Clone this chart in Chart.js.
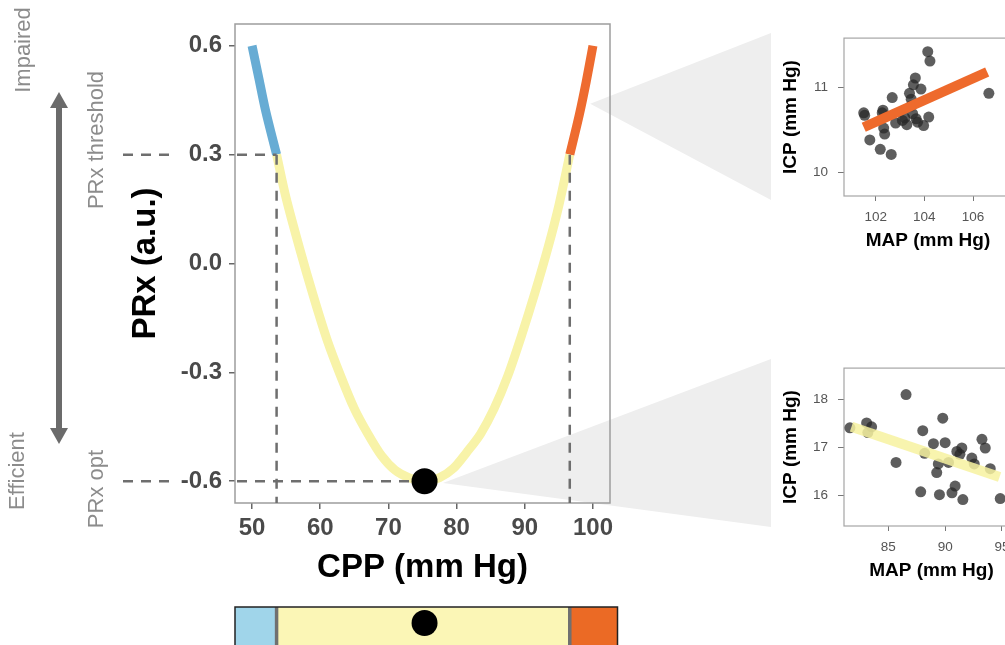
<!DOCTYPE html>
<html>
<head>
<meta charset="utf-8">
<script src="https://cdn.jsdelivr.net/npm/chart.js@4.4.0/dist/chart.umd.min.js"></script>
<style>
  html, body { margin: 0; padding: 0; background: #fff; overflow: hidden; }
  #wrap { position: relative; width: 1005px; height: 645px; overflow: hidden; }
  canvas { position: absolute; }
</style>
</head>
<body>
<div id="wrap">
  <canvas id="main" width="1005" height="645" style="left:0;top:0"></canvas>
  <canvas id="upper" width="260" height="240" style="left:770px;top:20px"></canvas>
  <canvas id="lower" width="260" height="240" style="left:770px;top:350px"></canvas>
</div>
<script>
// main curve, split in three coloured pieces
const cppLow = [50, 51, 52, 53.6];
const prxLow = [0.60, 0.51, 0.42, 0.30];
const cppMid = [53.6, 55, 57, 59, 61, 63, 65, 67, 69, 71, 73, 75.3, 77.5, 79.5, 81.5, 83.5, 85.5, 87.5, 89.5, 91.5, 93.5, 95, 96.6];
const prxMid = [0.30, 0.18, 0.04, -0.09, -0.21, -0.31, -0.40, -0.47, -0.53, -0.57, -0.59, -0.60, -0.59, -0.565, -0.52, -0.47, -0.40, -0.31, -0.20, -0.08, 0.05, 0.16, 0.30];
const cppHigh = [96.6, 98, 99, 100];
const prxHigh = [0.30, 0.41, 0.50, 0.60];
const optCpp = [75.3];
const optPrx = [-0.6];
const thresholdPrx = 0.3;
const thresholdCpp = [53.6, 96.6];

const cppTicks = [50, 60, 70, 80, 90, 100];
const prxTicks = [-0.6, -0.3, 0, 0.3, 0.6];

// bottom bar zones (CPP)
const barEdges = [47.5, 53.6, 96.6, 103.6];
const barColors = ['#a0d5ea', '#fbf6b6', '#eb6a25'];

// insets: MAP vs ICP
const upperMap = [101.51, 101.55, 101.76, 102.19, 102.27, 102.30, 102.37, 102.33, 102.64, 102.68, 102.82, 103.10, 103.20, 103.28, 103.39, 103.45, 103.46, 103.52, 103.55, 103.63, 103.66, 103.72, 103.86, 103.97, 104.14, 104.23, 104.18, 106.65];
const upperIcp = [10.70, 10.67, 10.38, 10.27, 10.70, 10.73, 10.45, 10.52, 10.21, 10.88, 10.58, 10.61, 10.64, 10.56, 10.93, 10.78, 10.86, 10.69, 11.03, 11.11, 10.63, 10.59, 10.98, 10.55, 11.42, 11.31, 10.65, 10.93];
const upperFitMap = [101.51, 106.58];
const upperFitIcp = [10.53, 11.18];
const upperMapTicks = [102, 104, 106];
const upperIcpTicks = [10, 11];

const lowerMap = [81.62, 83.09, 83.53, 83.20, 85.68, 86.56, 88.03, 87.85, 88.20, 88.97, 89.79, 90.00, 89.26, 89.40, 89.50, 90.30, 90.60, 90.88, 91.03, 91.47, 91.56, 91.30, 92.35, 92.56, 93.24, 93.53, 93.97, 94.85];
const lowerIcp = [17.41, 17.51, 17.43, 17.31, 16.69, 18.10, 17.35, 16.08, 16.88, 17.08, 17.61, 17.10, 16.48, 16.66, 16.02, 16.69, 16.06, 16.20, 16.92, 16.99, 15.92, 16.86, 16.78, 16.66, 17.17, 16.99, 16.56, 15.94];
const lowerFitMap = [81.76, 94.79];
const lowerFitIcp = [17.43, 16.39];
const lowerMapTicks = [85, 90, 95];
const lowerIcpTicks = [16, 17, 18];

const FONT = '"Liberation Sans", Arial, Helvetica, sans-serif';
Chart.defaults.font.family = FONT;
Chart.defaults.animation = false;

const pts = (xs, ys) => xs.map((x, i) => ({ x: x, y: ys[i] }));
const setTicks = vals => s => { s.ticks = vals.map(v => ({ value: v })); };

function vtext(ctx, s, cx, cy, size, color, weight) {
  ctx.save();
  ctx.translate(cx, cy);
  ctx.rotate(-Math.PI / 2);
  ctx.font = (weight || '') + ' ' + size + 'px ' + FONT;
  ctx.fillStyle = color;
  ctx.textAlign = 'center';
  ctx.textBaseline = 'middle';
  ctx.fillText(s, 0, 0);
  ctx.restore();
}

function dash(ctx, x1, y1, x2, y2) {
  ctx.beginPath();
  ctx.moveTo(x1, y1);
  ctx.lineTo(x2, y2);
  ctx.stroke();
}

const mainDecor = {
  id: 'mainDecor',
  beforeDraw(chart) {
    const { ctx, scales: { x, y } } = chart;
    // grey wedges towards the insets
    ctx.save();
    ctx.fillStyle = '#eeeeee';
    ctx.beginPath();
    ctx.moveTo(x.getPixelForValue(99.6), y.getPixelForValue(0.44));
    ctx.lineTo(771, 33);
    ctx.lineTo(771, 200);
    ctx.closePath();
    ctx.fill();
    ctx.beginPath();
    ctx.moveTo(x.getPixelForValue(78.0), y.getPixelForValue(-0.605));
    ctx.lineTo(771, 359);
    ctx.lineTo(771, 527);
    ctx.closePath();
    ctx.fill();
    ctx.restore();
  },
  beforeDatasetsDraw(chart) {
    const { ctx, chartArea: a } = chart;
    ctx.save();
    ctx.strokeStyle = '#9d9d9d';
    ctx.lineWidth = 1.5;
    ctx.strokeRect(a.left, a.top, a.right - a.left, a.bottom - a.top);
    ctx.restore();
  },
  afterDatasetDraw(chart, args) {
    if (args.index !== 1) return;
    const { ctx, chartArea: a, scales: { x, y } } = chart;
    ctx.save();
    ctx.strokeStyle = '#6e6e6e';
    ctx.lineWidth = 2.5;
    ctx.setLineDash([10, 8]);
    const yt = y.getPixelForValue(thresholdPrx);
    const yo = y.getPixelForValue(optPrx[0]);
    dash(ctx, a.left - 112, yt, a.left - 62, yt);
    dash(ctx, a.left + 2, yt, x.getPixelForValue(thresholdCpp[0]), yt);
    dash(ctx, a.left - 112, yo, a.left - 62, yo);
    dash(ctx, a.left + 2, yo, x.getPixelForValue(optCpp[0]), yo);
    thresholdCpp.forEach(c => dash(ctx, x.getPixelForValue(c), yt, x.getPixelForValue(c), a.bottom));
    ctx.restore();
  },
  afterDraw(chart) {
    const { ctx, scales: { x } } = chart;
    const grey = '#8c8c8c';
    vtext(ctx, 'Impaired', 24, 50, 22, grey);
    vtext(ctx, 'Efficient', 18, 471, 22, grey);
    vtext(ctx, 'PRx threshold', 97, 140, 22, grey);
    vtext(ctx, 'PRx opt', 97, 489, 22, grey);

    // double arrow
    ctx.save();
    ctx.strokeStyle = '#6b6b6b';
    ctx.fillStyle = '#6b6b6b';
    ctx.lineWidth = 6;
    dash(ctx, 59, 104, 59, 432);
    ctx.beginPath();
    ctx.moveTo(59, 92); ctx.lineTo(50, 108); ctx.lineTo(68, 108); ctx.closePath(); ctx.fill();
    ctx.beginPath();
    ctx.moveTo(59, 444); ctx.lineTo(50, 428); ctx.lineTo(68, 428); ctx.closePath(); ctx.fill();
    ctx.restore();

    // zone bar below the chart
    const top = 607, h = 45;
    ctx.save();
    for (let i = 0; i < barColors.length; i++) {
      const x1 = x.getPixelForValue(barEdges[i]);
      const x2 = x.getPixelForValue(barEdges[i + 1]);
      ctx.fillStyle = barColors[i];
      ctx.fillRect(x1, top, x2 - x1, h);
    }
    ctx.strokeStyle = '#707070';
    ctx.lineWidth = 3.5;
    [barEdges[1], barEdges[2]].forEach(c => dash(ctx, x.getPixelForValue(c), top, x.getPixelForValue(c), top + h));
    const bl = x.getPixelForValue(barEdges[0]);
    const br = x.getPixelForValue(barEdges[barEdges.length - 1]);
    ctx.strokeStyle = '#222';
    ctx.lineWidth = 1.5;
    ctx.strokeRect(bl, top, br - bl, h);
    ctx.fillStyle = '#000';
    ctx.beginPath();
    ctx.arc(x.getPixelForValue(optCpp[0]), 623, 13, 0, Math.PI * 2);
    ctx.fill();
    ctx.restore();
  }
};

const curve = (xs, ys, color) => ({
  data: pts(xs, ys), showLine: true, borderColor: color, borderWidth: 9,
  borderCapStyle: 'butt', pointRadius: 0, tension: 0.3
});

new Chart(document.getElementById('main'), {
  type: 'scatter',
  data: {
    datasets: [
      { data: pts(optCpp, optPrx), pointRadius: 13, pointHoverRadius: 13, backgroundColor: '#000', borderWidth: 0 },
      curve(cppMid, prxMid, '#f8f3a8'),
      curve(cppLow, prxLow, '#67acd4'),
      curve(cppHigh, prxHigh, '#ee6b2f')
    ]
  },
  options: {
    responsive: false,
    events: [],
    layout: { padding: { left: 120, top: 24, right: 395, bottom: 56 } },
    plugins: { legend: { display: false }, tooltip: { enabled: false } },
    scales: {
      x: {
        type: 'linear', min: 47.5, max: 102.5,
        afterBuildTicks: setTicks(cppTicks),
        afterFit: s => { s.height = 86; },
        border: { display: false },
        grid: { drawOnChartArea: false, tickLength: 6, color: '#666', lineWidth: 1.5 },
        ticks: { font: { size: 24, weight: 'bold' }, color: '#4a4a4a', padding: 5, maxRotation: 0, autoSkip: false },
        title: { display: true, text: 'CPP (mm Hg)', font: { size: 33, weight: 'bold' }, color: '#000', padding: { top: 0, bottom: 1 } }
      },
      y: {
        type: 'linear', min: -0.66, max: 0.66,
        afterBuildTicks: setTicks(prxTicks),
        afterFit: s => { s.width = 115; },
        border: { display: false },
        grid: { drawOnChartArea: false, tickLength: 6, color: '#666', lineWidth: 1.5 },
        ticks: { font: { size: 24, weight: 'bold' }, color: '#4a4a4a', padding: 7, callback: v => v.toFixed(1) },
        title: { display: true, text: 'PRx (a.u.)', font: { size: 33, weight: 'bold' }, color: '#000', padding: { top: 6, bottom: 0 } }
      }
    }
  },
  plugins: [mainDecor]
});

const insetBox = {
  id: 'insetBox',
  beforeDatasetsDraw(chart) {
    const { ctx, chartArea: a } = chart;
    ctx.save();
    ctx.strokeStyle = '#a5a5a5';
    ctx.lineWidth = 1.2;
    ctx.strokeRect(a.left, a.top, a.right - a.left, a.bottom - a.top);
    ctx.restore();
  }
};

function inset(id, xs, ys, fx, fy, lineColor, xMin, xMax, yMin, yMax, xTicks, yTicks, padTop, padRight) {
  new Chart(document.getElementById(id), {
    type: 'scatter',
    data: {
      datasets: [
        { data: pts(fx, fy), showLine: true, borderColor: lineColor, borderWidth: 10, borderCapStyle: 'butt', pointRadius: 0 },
        { data: pts(xs, ys), pointRadius: 5.5, pointHoverRadius: 5.5, backgroundColor: 'rgba(40,40,40,0.75)', borderWidth: 0 }
      ]
    },
    options: {
      responsive: false,
      events: [],
      layout: { padding: { left: 0, top: padTop, right: padRight, bottom: 6 } },
      plugins: { legend: { display: false }, tooltip: { enabled: false } },
      scales: {
        x: {
          type: 'linear', min: xMin, max: xMax,
          afterBuildTicks: setTicks(xTicks),
          afterFit: s => { s.height = 58; },
          border: { display: false },
          grid: { drawOnChartArea: false, tickLength: 5, color: '#777' },
          ticks: { font: { size: 13.5 }, color: '#555', padding: 8, maxRotation: 0, autoSkip: false },
          title: { display: true, text: 'MAP (mm Hg)', font: { size: 19, weight: 'bold' }, color: '#000', padding: { top: 0, bottom: 2 } }
        },
        y: {
          type: 'linear', min: yMin, max: yMax,
          afterBuildTicks: setTicks(yTicks),
          afterFit: s => { s.width = 74; },
          border: { display: false },
          grid: { drawOnChartArea: false, tickLength: 6, color: '#777' },
          ticks: { font: { size: 13.5 }, color: '#555', padding: 10 },
          title: { display: true, text: 'ICP (mm Hg)', font: { size: 19, weight: 'bold' }, color: '#000', padding: { top: 9, bottom: 0 } }
        }
      }
    },
    plugins: [insetBox]
  });
}

inset('upper', upperMap, upperIcp, upperFitMap, upperFitIcp, '#ee6a2c',
  100.7, 107.6, 9.72, 11.58, upperMapTicks, upperIcpTicks, 10, 18);
inset('lower', lowerMap, lowerIcp, lowerFitMap, lowerFitIcp, 'rgba(247,242,160,0.85)',
  81.1, 96.5, 15.37, 18.65, lowerMapTicks, lowerIcpTicks, 9, 11);
</script>
</body>
</html>
